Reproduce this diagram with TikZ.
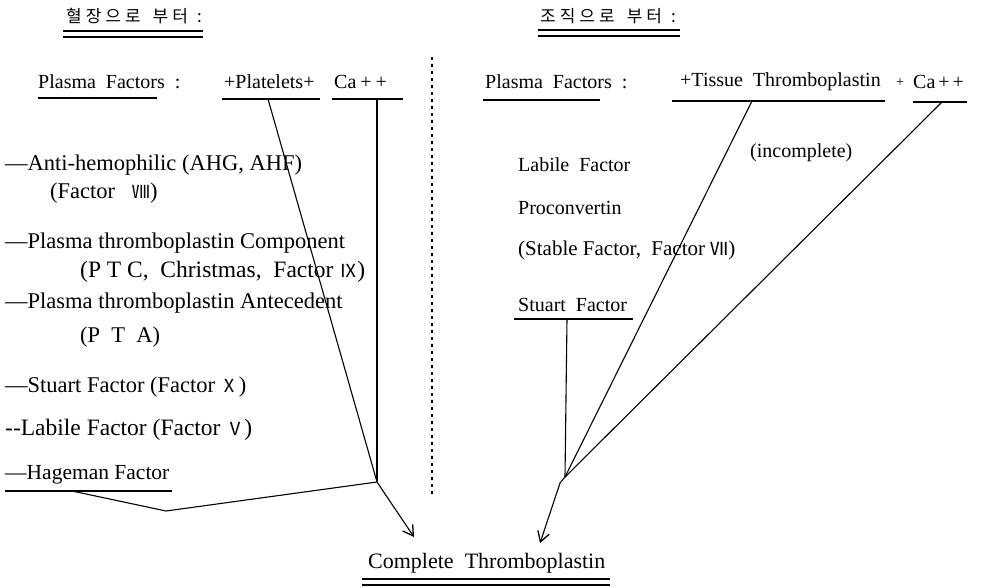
\documentclass[tikz,border=0pt]{standalone}
\usepackage{fontspec}
\setmainfont{Liberation Serif}
\newfontfamily\kor{Noto Sans CJK KR}
\usetikzlibrary{arrows.meta}
\newcommand\rn[1]{{\kor\fontsize{18}{20}\selectfont #1}}
\newcommand\ks{\hspace{4pt}}
\begin{document}
\begin{tikzpicture}[x=1pt,y=-1pt,
  txt/.style={inner sep=0pt, anchor=west, font=\fontsize{20}{24}\selectfont},
  lst/.style={inner sep=0pt, anchor=west, font=\fontsize{22.5}{26}\selectfont},
  head/.style={inner sep=0pt, anchor=west, font=\kor\fontsize{17}{20}\selectfont},
  ul/.style={line width=1.1pt},
  conn/.style={line width=1.1pt},
  arr/.style={conn, -{Straight Barb[length=10pt,width=12pt,line width=1.3pt]}},
  dots/.style={line width=1.3pt, dash pattern=on 2.5pt off 4.5pt}]
\useasboundingbox (0,0) rectangle (1002,587);
% headings
\node[head] (h1) at (66,16) {혈\ks 장\ks 으\ks 로\hspace{12pt}부\ks 터\hspace{9pt}:};
\draw[ul] (63,31) -- (203,31);
\draw[ul] (63,37) -- (203,37);
\node[head] (h2) at (540,16) {조\ks 직\ks 으\ks 로\hspace{12pt}부\ks 터\hspace{9pt}:};
\draw[ul] (538,30) -- (680,30);
\draw[ul] (538,36) -- (680,36);
% left top row
\node[txt] (pf1) at (38,82) {Plasma\ \ Factors\ \ :};
\draw[ul] (38,98) -- (157,98);
\node[txt] (plt) at (224,82) {+Platelets+};
\draw[ul] (222,99) -- (320,99);
\node[txt] (ca1) at (334,82) {Ca\hspace{4pt}+\hspace{4pt}+};
\draw[ul] (332,99) -- (403,99);
% left list
\node[lst] (a1) at (5,165) {---Anti-hemophilic (AHG, AHF)};
\node[lst] (a2) at (50,193) {(Factor\ \ \ \rn{Ⅷ})};
\node[lst] (a3) at (5,243) {---Plasma thromboplastin Component};
\node[lst,font=\fontsize{23.5}{26}\selectfont] (a4) at (80,272) {(P T C,\ \ Christmas,\ \ Factor \rn{Ⅸ})};
\node[lst] (a5) at (5,303) {---Plasma thromboplastin Antecedent};
\node[lst] (a6) at (80,337) {(P\ \ T\ \ A)};
\node[lst] (a7) at (5,387) {---Stuart Factor (Factor \rn{Ⅹ})};
\node[lst,font=\fontsize{23.5}{26}\selectfont] (a8) at (5,430) {-{}-Labile Factor (Factor \rn{Ⅴ})};
\node[lst,font=\fontsize{21.5}{26}\selectfont] (a9) at (5,475) {---Hageman Factor};
\draw[ul] (5,491) -- (172,491);
% separator
\coordinate (d0) at (432,57);
\coordinate (d1) at (432,497);
\draw[dots] (d0) -- (d1);
% right top row
\node[txt] (pf2) at (485,82) {Plasma\ \ Factors\ \ :};
\draw[ul] (483,100) -- (600,100);
\node[txt] (tis) at (680,82) {+Tissue\ \ Thromboplastin};
\draw[ul] (672,101) -- (885,101);
\node[txt] (pl2) at (896,83) {\fontsize{14}{16}\selectfont +};
\node[txt] (ca2) at (913,82) {Ca\hspace{3pt}+\hspace{3pt}+};
\draw[ul] (913,102) -- (967,102);
% right list
\node[txt] (inc) at (750,153) {(incomplete)};
\node[txt] (b1) at (518,165) {Labile\ \ Factor};
\node[txt] (b2) at (518,208) {Proconvertin};
\node[txt,font=\fontsize{21}{24}\selectfont] (b3) at (518,250) {(Stable Factor,\ \ Factor \rn{Ⅶ})};
\node[txt] (b4) at (518,305) {Stuart\ \ Factor};
\draw[ul] (514,319) -- (633,319);
% bottom
\node[txt,font=\fontsize{22}{24}\selectfont] (ct) at (368,563) {Complete\ \ Thromboplastin};
\draw[ul] (362,579) -- (610,579);
\draw[ul] (362,585) -- (610,585);
% connector points
\coordinate (P0) at (268,99);
\coordinate (C0) at (377,99);
\coordinate (H0) at (72,491);
\coordinate (V0) at (166,511);
\coordinate (J1) at (377,482);
\coordinate (T1) at (414,537);
\coordinate (S0) at (567,319);
\coordinate (T0) at (752,101);
\coordinate (C2) at (942,102);
\coordinate (J2) at (565,477);
\coordinate (K2) at (560,483);
\coordinate (T2) at (540,543);
\draw[conn] (P0) -- (J1);
\draw[conn] (C0) -- (J1);
\draw[conn] (H0) -- (V0) -- (J1);
\draw[arr] (J1) -- (T1);
\draw[conn] (S0) -- (J2);
\draw[conn] (T0) -- (J2);
\draw[conn] (C2) -- (J2);
\draw[conn] (J2) -- (K2);
\draw[arr] (K2) -- (T2);
\end{tikzpicture}
\end{document}
